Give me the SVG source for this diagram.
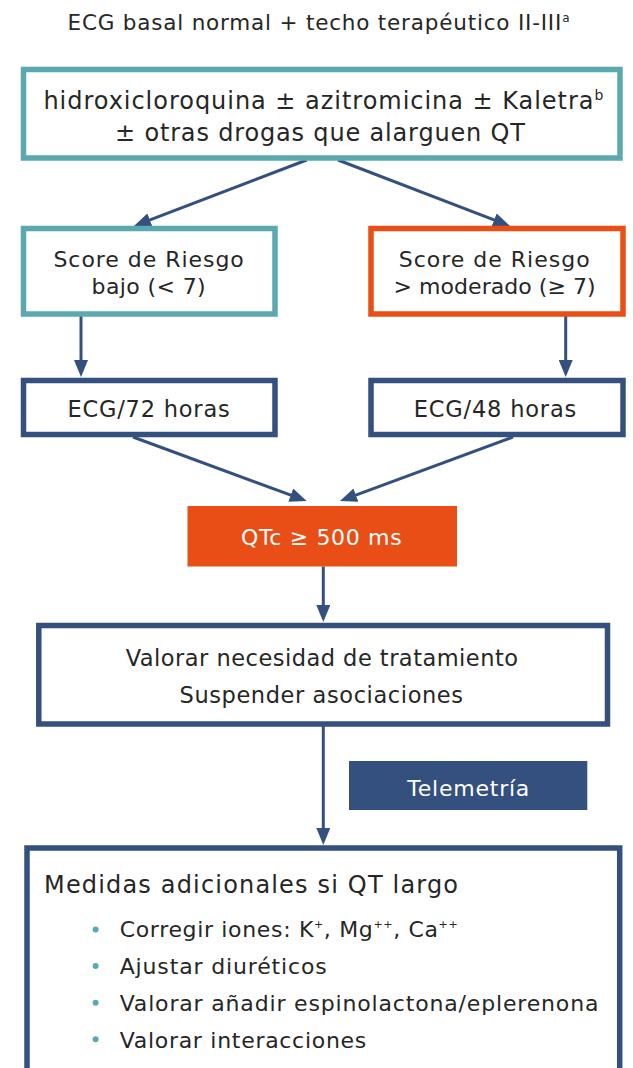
<svg xmlns="http://www.w3.org/2000/svg" width="633" height="1068" viewBox="0 0 633 1068">
<style>
  .t { font-family: "DejaVu Sans", "Liberation Sans", sans-serif; fill: #262626; }
  .w { font-family: "DejaVu Sans", "Liberation Sans", sans-serif; fill: #ffffff; }
  .teal { fill: #ffffff; stroke: #5AA9B1; stroke-width: 5.5; }
  .orng { fill: #ffffff; stroke: #E84E15; stroke-width: 5.5; }
  .blue { fill: #ffffff; stroke: #34507F; stroke-width: 5.5; }
  .conn { fill: none; stroke: #34507F; stroke-width: 3; }
  .dot { fill: #5AA9B1; }
</style>
<defs>
  <marker id="ah" markerUnits="userSpaceOnUse" markerWidth="17" markerHeight="14" refX="11" refY="7" orient="auto">
    <path d="M0,0 L17,7 L0,14 z" fill="#34507F"/>
  </marker>
</defs>
<rect width="633" height="1068" fill="#ffffff"/>

<g id="title">
  <text class="t" x="67.5" y="30" font-size="21.5" textLength="502" lengthAdjust="spacing">ECG basal normal + techo terapéutico II-III<tspan font-size="12" dy="-8">a</tspan></text>
</g>

<g id="connectors">
  <path class="conn" d="M306.7,160 L139.6,223.9" marker-end="url(#ah)"/>
  <path class="conn" d="M338,160 L504.4,223.9" marker-end="url(#ah)"/>
  <path class="conn" d="M81,313 L81,371" marker-end="url(#ah)"/>
  <path class="conn" d="M565.7,311 L565.7,371" marker-end="url(#ah)"/>
  <path class="conn" d="M133,437 L301.1,498.9" marker-end="url(#ah)"/>
  <path class="conn" d="M513,437 L345.6,498.9" marker-end="url(#ah)"/>
  <path class="conn" d="M323.3,566.5 L323.3,616" marker-end="url(#ah)"/>
  <path class="conn" d="M323.3,726 L323.3,839" marker-end="url(#ah)"/>
</g>

<g id="n_drugs">
  <rect class="teal" x="23.5" y="69.5" width="596.5" height="88.5"/>
  <text class="t" x="43.4" y="109" font-size="24" textLength="560" lengthAdjust="spacing">hidroxicloroquina ± azitromicina ± Kaletra<tspan font-size="14" dy="-9">b</tspan></text>
  <text class="t" x="115" y="141" font-size="24" textLength="410" lengthAdjust="spacing">± otras drogas que alarguen QT</text>
</g>

<g id="n_low">
  <rect class="teal" x="23.5" y="228.5" width="251.5" height="85.5"/>
  <text class="t" x="53.4" y="266.7" font-size="22" textLength="190.4" lengthAdjust="spacing">Score de Riesgo</text>
  <text class="t" x="91.6" y="294" font-size="22" textLength="114" lengthAdjust="spacing">bajo (&lt; 7)</text>
</g>

<g id="n_high">
  <rect class="orng" x="371" y="228.5" width="252" height="85.5"/>
  <text class="t" x="398.8" y="266.7" font-size="22" textLength="190.8" lengthAdjust="spacing">Score de Riesgo</text>
  <text class="t" x="393.6" y="294" font-size="22" textLength="202" lengthAdjust="spacing">&gt; moderado (≥ 7)</text>
</g>

<g id="n_ecg72">
  <rect class="blue" x="23.5" y="380.5" width="251.5" height="54"/>
  <text class="t" x="67.5" y="416.7" font-size="22.5" textLength="162.2" lengthAdjust="spacing">ECG/72 horas</text>
</g>

<g id="n_ecg48">
  <rect class="blue" x="371" y="380.5" width="252" height="54"/>
  <text class="t" x="413.7" y="416.7" font-size="22.5" textLength="162.6" lengthAdjust="spacing">ECG/48 horas</text>
</g>

<g id="n_qtc">
  <rect x="187.5" y="506" width="269.5" height="60.5" fill="#E84E15"/>
  <text class="w" x="241" y="545" font-size="22" textLength="160.6" lengthAdjust="spacing">QTc ≥ 500 ms</text>
</g>

<g id="n_valorar">
  <rect class="blue" x="38.8" y="625.5" width="568.7" height="98.5"/>
  <text class="t" x="125.7" y="666" font-size="22.5" textLength="392.3" lengthAdjust="spacing">Valorar necesidad de tratamiento</text>
  <text class="t" x="179.5" y="702.7" font-size="22.5" textLength="283.5" lengthAdjust="spacing">Suspender asociaciones</text>
</g>

<g id="n_telemetria">
  <rect x="349" y="761" width="238.3" height="49" fill="#34507F"/>
  <text class="w" x="407.3" y="796" font-size="22" textLength="122" lengthAdjust="spacing">Telemetría</text>
</g>

<g id="n_medidas">
  <rect class="blue" x="27" y="848" width="592.7" height="260"/>
  <text class="t" x="44" y="893.3" font-size="24" textLength="414" lengthAdjust="spacing">Medidas adicionales si QT largo</text>
  <circle class="dot" cx="95.6" cy="929.5" r="3"/>
  <circle class="dot" cx="95.6" cy="966" r="3"/>
  <circle class="dot" cx="95.6" cy="1002.7" r="3"/>
  <circle class="dot" cx="95.6" cy="1039.3" r="3"/>
  <text class="t" x="119.7" y="937.3" font-size="22" textLength="338" lengthAdjust="spacing">Corregir iones: K<tspan font-size="11" dy="-9">+</tspan><tspan dy="9">, Mg</tspan><tspan font-size="11" dy="-9">++</tspan><tspan dy="9">, Ca</tspan><tspan font-size="11" dy="-9">++</tspan></text>
  <text class="t" x="119.7" y="974.3" font-size="22" textLength="207" lengthAdjust="spacing">Ajustar diuréticos</text>
  <text class="t" x="119.7" y="1011" font-size="22" textLength="478.7" lengthAdjust="spacing">Valorar añadir espinolactona/eplerenona</text>
  <text class="t" x="119.7" y="1047.7" font-size="22" textLength="246.6" lengthAdjust="spacing">Valorar interacciones</text>
</g>
</svg>
